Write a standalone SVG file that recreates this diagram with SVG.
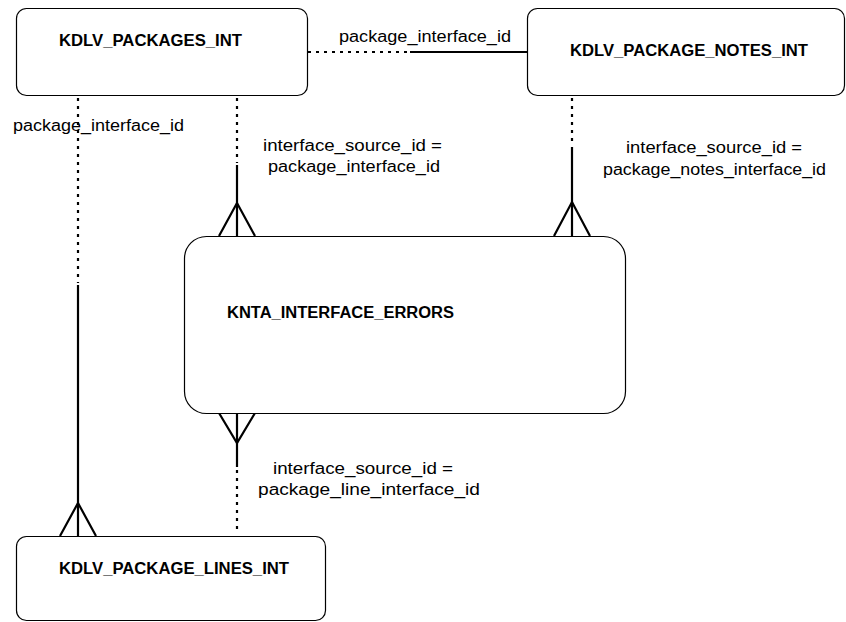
<svg xmlns="http://www.w3.org/2000/svg" width="846" height="622" viewBox="0 0 846 622">
<style>
.node{fill:#fff;stroke:#000;stroke-width:1.2}
.title{font-family:"Liberation Sans",Arial,sans-serif;font-weight:bold;font-size:16px;fill:#000}
.lbl{font-family:"Liberation Sans",Arial,sans-serif;font-size:16px;fill:#000}
.solid{stroke:#000;stroke-width:2.2;fill:none}
.dot{stroke:#000;stroke-width:2.2;fill:none;stroke-dasharray:3 5}
</style>
<rect width="846" height="622" fill="#fff"/>
<g id="connectors">
  <g id="c-packages-notes">
    <line class="dot" x1="308" y1="52" x2="410" y2="52"/>
    <line class="solid" x1="410" y1="52" x2="527" y2="52"/>
    <text class="lbl" x="339" y="42" textLength="172" lengthAdjust="spacingAndGlyphs">package_interface_id</text>
  </g>
  <g id="c-packages-lines">
    <line class="dot" x1="78" y1="98" x2="78" y2="283"/>
    <line class="solid" x1="78" y1="285" x2="78" y2="536"/>
    <polyline class="solid" points="60,536 78,503 96,536"/>
    <text class="lbl" x="13" y="131" textLength="171" lengthAdjust="spacingAndGlyphs">package_interface_id</text>
  </g>
  <g id="c-packages-errors">
    <line class="dot" x1="237" y1="98" x2="237" y2="163"/>
    <line class="solid" x1="237" y1="165" x2="237" y2="236"/>
    <polyline class="solid" points="219,236 237,203 255,236"/>
    <text class="lbl" x="263" y="151" textLength="179" lengthAdjust="spacingAndGlyphs">interface_source_id =</text>
    <text class="lbl" x="268" y="172" textLength="172" lengthAdjust="spacingAndGlyphs">package_interface_id</text>
  </g>
  <g id="c-notes-errors">
    <line class="dot" x1="572" y1="98" x2="572" y2="145"/>
    <line class="solid" x1="572" y1="147" x2="572" y2="236"/>
    <polyline class="solid" points="554,236 572,202 590,236"/>
    <text class="lbl" x="626" y="153" textLength="176" lengthAdjust="spacingAndGlyphs">interface_source_id =</text>
    <text class="lbl" x="603" y="175" textLength="223" lengthAdjust="spacingAndGlyphs">package_notes_interface_id</text>
  </g>
  <g id="c-lines-errors">
    <line class="solid" x1="237" y1="413" x2="237" y2="467"/>
    <polyline class="solid" points="219,413 237,443 255,413"/>
    <line class="dot" x1="237" y1="470" x2="237" y2="530"/>
    <text class="lbl" x="273" y="474" textLength="180" lengthAdjust="spacingAndGlyphs">interface_source_id =</text>
    <text class="lbl" x="258" y="495" textLength="222" lengthAdjust="spacingAndGlyphs">package_line_interface_id</text>
  </g>
</g>
<g id="n-packages">
  <rect class="node" x="16.5" y="8.5" width="291" height="87" rx="10" ry="10"/>
  <text class="title" x="59" y="46" textLength="183" lengthAdjust="spacingAndGlyphs">KDLV_PACKAGES_INT</text>
</g>
<g id="n-notes">
  <rect class="node" x="527.5" y="8.5" width="317" height="87" rx="10" ry="10"/>
  <text class="title" x="570" y="56" textLength="238" lengthAdjust="spacingAndGlyphs">KDLV_PACKAGE_NOTES_INT</text>
</g>
<g id="n-errors">
  <rect class="node" x="184.5" y="236.5" width="441" height="177" rx="22" ry="22"/>
  <text class="title" x="227" y="318" textLength="227" lengthAdjust="spacingAndGlyphs">KNTA_INTERFACE_ERRORS</text>
</g>
<g id="n-lines">
  <rect class="node" x="16.5" y="536.5" width="309" height="84" rx="10" ry="10"/>
  <text class="title" x="59" y="574" textLength="230" lengthAdjust="spacingAndGlyphs">KDLV_PACKAGE_LINES_INT</text>
</g>
</svg>
